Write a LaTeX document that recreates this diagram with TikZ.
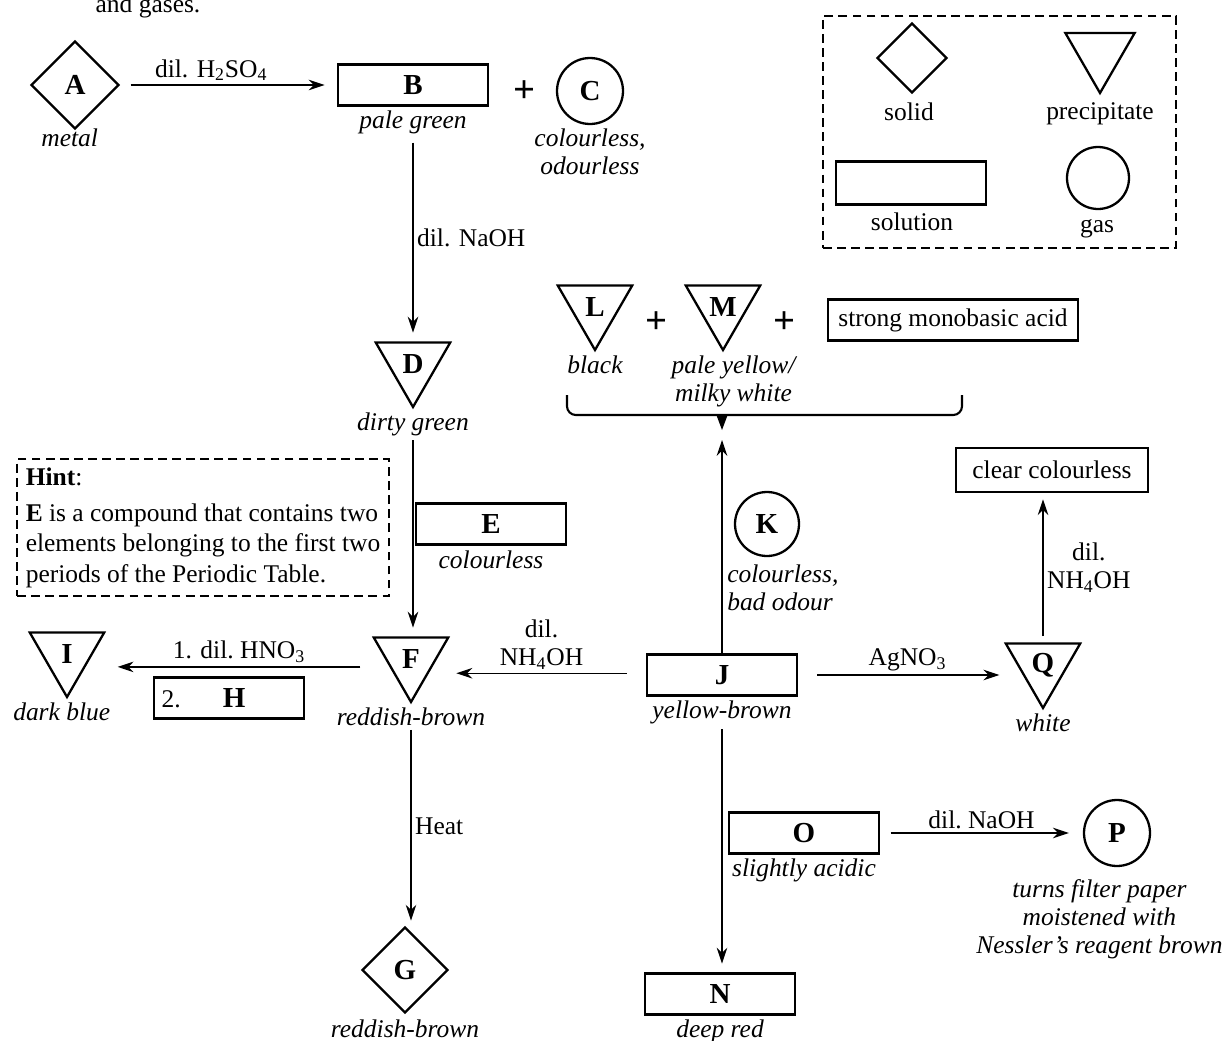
\documentclass[tikz,border=0pt]{standalone}
\usepackage{fontspec}
\setmainfont{Liberation Serif}
\usetikzlibrary{shapes.geometric, arrows.meta, positioning}
\newcommand{\dgsize}{\fontsize{14.5}{16}\selectfont}
\newcommand{\ltsize}{\fontsize{16.5}{18}\selectfont}

\tikzset{
  soln/.style={draw, line width=1.3pt, minimum width=3cm, minimum height=0.82cm, inner sep=0pt, font=\ltsize\bfseries},
  solid/.style={draw, diamond, line width=1.3pt, minimum size=1.76cm, inner sep=0pt, font=\ltsize\bfseries},
  ppt/.style={draw, regular polygon, regular polygon sides=3, shape border rotate=180, line width=1.3pt, minimum size=1.72cm, inner sep=0pt, font=\ltsize\bfseries},
  gas/.style={draw, circle, line width=1.3pt, minimum size=1.32cm, inner sep=0pt, font=\ltsize\bfseries},
  desc/.style={font=\dgsize\itshape, inner sep=0pt, align=center},
  lbl/.style={font=\dgsize, inner sep=2pt, align=center},
  plus/.style={font=\fontsize{22}{22}\selectfont\bfseries, inner sep=0pt},
  react/.style={-{Stealth[length=9pt, width=6pt]}, line width=0.7pt},
  keybox/.style={draw, line width=1.2pt, dash pattern=on 5pt off 3pt}
}

\begin{document}
\begin{tikzpicture}[x=0.02cm, y=-0.02cm]
\useasboundingbox (0,0) rectangle (1228,1041);
\node[font=\dgsize, anchor=base] (gases) at (148,12) {and gases.};

% key
\node[keybox, minimum width=7.06cm, minimum height=4.64cm] (key) at (999.5,132) {};
\node[solid, minimum size=1.4cm] (ksolid) at (912,58) {};
\node[lbl] (ksolidtxt) at (909,112) {solid};
\node[ppt, minimum size=1.6cm] (kppt) at (1100,53) {};
\node[lbl] (kppttxt) at (1100,114) {precipitate};
\node[soln, minimum height=0.86cm] (ksol) at (911,183) {};
\node[lbl] (ksoltxt) at (912,222) {solution};
\node[gas, minimum size=1.24cm] (kgas) at (1098,178) {};
\node[lbl] (kgastxt) at (1097,229) {gas};

% hint
\node[keybox, anchor=north west, inner xsep=0.1cm, minimum width=7.44cm, minimum height=2.74cm, align=left, font=\fontsize{14.5}{17.4}\selectfont] (hint) at (16,458)
  {\textbf{Hint}:\\[3pt]\textbf{E} is a compound that contains two\\elements belonging to the first two\\periods of the Periodic Table.};

% left column
\node[solid] (A) at (75,85) {A};
\node[desc, below=-1pt of A, xshift=-3pt] (Atxt) {metal};
\node[soln] (B) at (413,85) {B};
\node[desc, below=2pt of B] (Btxt) {pale green};
\node[plus] (plusa) at (525,92) {+};
\node[gas] (C) at (590,91) {C};
\node[desc, below=2pt of C] (Ctxt) {colourless,\\odourless};
\node[ppt] (D) at (413,364) {D};
\node[desc, below=2pt of D] (Dtxt) {dirty green};
\node[soln] (E) at (491,524) {E};
\node[desc, below=3pt of E] (Etxt) {colourless};
\node[ppt] (F) at (411,659) {F};
\node[desc, below=2pt of F] (Ftxt) {reddish-brown};
\node[solid, minimum size=1.72cm] (G) at (405,970) {G};
\node[desc, below=3pt of G] (Gtxt) {reddish-brown};
\node[ppt] (I) at (67,654) {I};
\node[desc, below=2pt of I, xshift=-3pt] (Itxt) {dark blue};
\node[soln, font=\dgsize, text width=2.7cm, inner xsep=0.15cm, align=left] (H) at (229,698) {2.\hspace{24pt}{\ltsize\bfseries H}};

% right part
\node[soln] (J) at (722,675) {J};
\node[desc, below=2pt of J] (Jtxt) {yellow-brown};
\node[gas, minimum size=1.28cm] (K) at (767,524) {K};
\node[desc, below=4pt of K, xshift=9pt, align=left] (Ktxt) {colourless,\\bad odour};
\node[ppt] (L) at (595,307) {L};
\node[desc, below=2pt of L] (Ltxt) {black};
\node[plus] (plusb) at (657,323) {+};
\node[ppt] (M) at (723,307) {M};
\node[desc, below=2pt of M, xshift=6pt] (Mtxt) {pale yellow/\\milky white};
\node[plus] (plusc) at (785,323) {+};
\node[soln, font=\dgsize, minimum width=5cm] (acid) at (953,320) {strong monobasic acid};
\coordinate (brc) at (722,440);
\node[soln, font=\dgsize, minimum width=3.84cm, minimum height=0.88cm] (clr) at (1052,470) {clear colourless};
\node[ppt] (Q) at (1043,665) {Q};
\node[desc, below=2pt of Q] (Qtxt) {white};
\node[soln] (N) at (720,994) {N};
\node[desc, below=2pt of N] (Ntxt) {deep red};
\node[soln] (O) at (804,833) {O};
\node[desc, below=2pt of O] (Otxt) {slightly acidic};
\node[gas] (P) at (1117,833) {P};
\node[desc, below=7pt of P, xshift=-10pt] (Ptxt) {turns filter paper\\moistened with\\Nessler's reagent brown};

% brace over L, M and the acid
\draw[line width=1.2pt, rounded corners=5pt] (567,395) -- (567,415) -- (962,415) -- (962,395);
\fill (716,414) -- (728,414) -- (722,430) -- cycle;

% reactions
\draw[react, shorten <=6pt, shorten >=7pt] (A) -- node[lbl, above, pos=0.42] (h2so4) {dil. H\textsubscript{2}SO\textsubscript{4}} (B);
\draw[react, shorten <=5pt, shorten >=5pt] (Btxt) -- node[lbl, right] (naoha) {dil. NaOH} (Btxt |- D.north);
\draw[react, shorten <=2pt, shorten >=5pt] (Dtxt) -- (Dtxt |- F.north);
\draw[react, shorten <=2pt, shorten >=3pt] (Ftxt) -- node[lbl, right] (heat) {Heat} (Ftxt |- G.north);
\draw[react, shorten <=14pt, shorten >=14pt] ([yshift=-4.5pt]F.west) -- ([yshift=-4.5pt]F.west -| I.east) node[lbl, midway, above] (hno3) {1. dil.\ HNO\textsubscript{3}};
\draw[react, shorten <=11pt, shorten >=11pt] ([yshift=1pt]J.west) -- ([yshift=1pt]J.west -| F.east) node[lbl, midway, above] (nhfoa) {dil.\\NH\textsubscript{4}OH};
\draw[react, shorten <=11pt, shorten >=10pt] (J.east) -- (J.east -| Q.west) node[lbl, midway, above] (agno) {AgNO\textsubscript{3}};
\draw[react, shorten <=3.5pt, shorten >=3.5pt] (Q.north) -- (Q.north |- clr.south) node[lbl, midway, right] (nhfob) {dil.\\NH\textsubscript{4}OH};
\draw[react] (J) -- (brc);
\draw[react, shorten <=3pt, shorten >=5pt] (Jtxt) -- (Jtxt |- N.north);
\draw[react, shorten <=6pt, shorten >=8pt] (O) -- node[lbl, above] (naohb) {dil.\ NaOH} (P);
\end{tikzpicture}
\end{document}
